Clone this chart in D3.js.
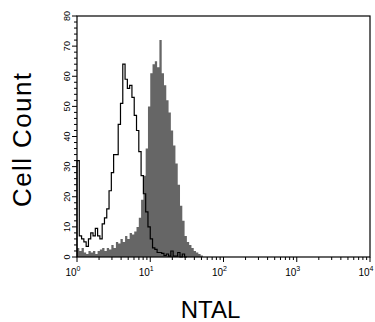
<!DOCTYPE html>
<html>
<head>
<meta charset="utf-8">
<script src="https://cdn.jsdelivr.net/npm/d3@7/dist/d3.min.js"></script>
<style>
  body { margin: 0; background: #fff; }
  text { font-family: "Liberation Sans", Arial, sans-serif; fill: #000; }
</style>
</head>
<body>
<div id="chart"></div>
<script>
// histogram channels: 32 bins per decade, starting at 10^0
const binsPerDecade = 32;
// control (open, black outline)
const controlCounts = [
  32, 7, 6, 5, 3.5, 6, 8, 7, 9.5, 7,
  6, 11, 13, 16, 22, 28, 34, 34, 44, 51,
  64, 59, 56, 57, 53, 47, 42, 35, 27, 21,
  15, 10, 6, 3, 2.5, 1.5, 1.5, 1.2, 0.5, 1,
  0.3, 2, 0.3, 0.3, 1.5, 0, 1, 0
];
// NTAL stained (filled gray)
const ntalCounts = [
  3, 2, 3, 1.5, 1, 2, 1.5, 2, 1, 2,
  2.5, 3, 2, 3, 2.5, 4, 3, 5, 4.5, 6,
  5, 7, 6, 8, 7.5, 8.5, 10, 13, 19, 27,
  36, 50, 61, 64, 65, 63, 72, 61, 57, 52,
  48, 42, 37, 31, 24, 17, 12, 7, 5, 4,
  3, 2, 1.5, 1, 0.5, 0
];
const xTickValues = [1, 10, 100, 1000, 10000];
const xTickExps = ['0', '1', '2', '3', '4'];
const yTickValues = [0, 10, 20, 30, 40, 50, 60, 70, 80];

const W = 375, H = 322;
const mLeft = 77, mRight = 370, mTop = 16, mBottom = 257;

const svg = d3.select('#chart').append('svg')
  .attr('width', W).attr('height', H);

const x = d3.scaleLog().domain([1, 10000]).range([mLeft, mRight]);
const y = d3.scaleLinear().domain([0, 80]).range([mBottom, mTop]);

function toPoints(counts) {
  const pts = counts.map((c, i) => [Math.pow(10, i / binsPerDecade), c]);
  pts.push([Math.pow(10, counts.length / binsPerDecade), 0]);
  return pts;
}

// filled histogram
const area = d3.area()
  .x(d => x(d[0])).y0(y(0)).y1(d => y(d[1]))
  .curve(d3.curveStepAfter);
svg.append('path')
  .datum(toPoints(ntalCounts))
  .attr('d', area)
  .attr('fill', '#666');

// open histogram
const line = d3.line()
  .x(d => x(d[0])).y(d => y(d[1]))
  .curve(d3.curveStepAfter);
const ctrl = [[1, 0]].concat(toPoints(controlCounts));
svg.append('path')
  .datum(ctrl)
  .attr('d', line)
  .attr('fill', 'none')
  .attr('stroke', '#000')
  .attr('stroke-width', 1.2);

// frame
svg.append('rect')
  .attr('x', mLeft).attr('y', mTop)
  .attr('width', mRight - mLeft).attr('height', mBottom - mTop)
  .attr('fill', 'none').attr('stroke', '#000').attr('stroke-width', 1.2);

// y axis ticks
const yMinor = d3.range(0, 81, 2);
svg.selectAll('line.ytick').data(yMinor).enter().append('line')
  .attr('class', 'ytick')
  .attr('x1', mLeft).attr('x2', d => mLeft - (d % 10 == 0 ? 5 : 3))
  .attr('y1', d => y(d)).attr('y2', d => y(d))
  .attr('stroke', '#000').attr('stroke-width', 1);
svg.selectAll('text.ylab').data(yTickValues).enter().append('text')
  .attr('class', 'ylab')
  .attr('transform', d => 'translate(70,' + y(d) + ') rotate(-90)')
  .attr('text-anchor', 'middle')
  .style('font-size', '9px')
  .text(d => d);

// x axis ticks
const xMinor = [];
for (let e = 0; e < 4; e++) {
  for (let k = 1; k < 10; k++) xMinor.push(k * Math.pow(10, e));
}
xMinor.push(10000);
svg.selectAll('line.xtick').data(xMinor).enter().append('line')
  .attr('class', 'xtick')
  .attr('x1', d => x(d)).attr('x2', d => x(d))
  .attr('y1', mBottom).attr('y2', d => mBottom + (xTickValues.includes(d) ? 5 : 3))
  .attr('stroke', '#000').attr('stroke-width', 1);
const xl = svg.selectAll('text.xlab').data(xTickValues).enter().append('text')
  .attr('class', 'xlab')
  .attr('x', d => x(d) - 4).attr('y', 276)
  .attr('text-anchor', 'middle')
  .style('font-size', '10px');
xl.append('tspan').text('10');
xl.append('tspan').attr('dy', -5).style('font-size', '7px').text((d, i) => xTickExps[i]);

// axis titles
svg.append('text')
  .attr('x', 210.5).attr('y', 318)
  .attr('text-anchor', 'middle')
  .style('font-size', '24px')
  .text('NTAL');
svg.append('text')
  .attr('transform', 'translate(31,140) rotate(-90)')
  .attr('text-anchor', 'middle')
  .attr('textLength', 134).attr('lengthAdjust', 'spacing')
  .style('font-size', '26px')
  .text('Cell Count');
</script>
</body>
</html>
